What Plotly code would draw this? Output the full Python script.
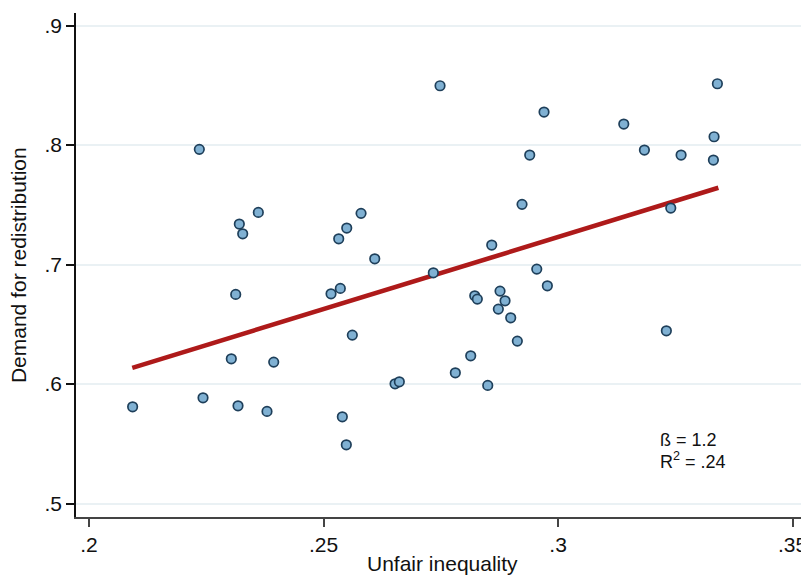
import plotly.graph_objects as go

# Scatter data
unfair_inequality = [
    0.20930, 0.22352, 0.22431, 0.23034, 0.23128, 0.23177, 0.23205, 0.23277,
    0.23610, 0.23795, 0.23938, 0.25160, 0.25324, 0.25358, 0.25401, 0.25495,
    0.25486, 0.25614, 0.25800, 0.26092, 0.26525, 0.26616, 0.27341, 0.27484,
    0.27810, 0.28138, 0.28224, 0.28279, 0.28501, 0.28586, 0.28727, 0.28763,
    0.28870, 0.28991, 0.29132, 0.29232, 0.29396, 0.29546, 0.29701, 0.29772,
    0.31401, 0.31841, 0.32309, 0.32403, 0.32623, 0.33326, 0.33312, 0.33397,
]
demand_redistribution = [
    0.58100, 0.79640, 0.58854, 0.62117, 0.67506, 0.58184, 0.73389, 0.72577,
    0.74368, 0.57715, 0.61841, 0.67556, 0.72159, 0.68008, 0.57264, 0.73054,
    0.54921, 0.64100, 0.74285, 0.70485, 0.60025, 0.60192, 0.69314, 0.84963,
    0.60946, 0.62368, 0.67389, 0.67113, 0.59891, 0.71632, 0.66276, 0.67782,
    0.66971, 0.65548, 0.63598, 0.75038, 0.79163, 0.69623, 0.82762, 0.68226,
    0.81757, 0.79582, 0.64460, 0.74728, 0.79163, 0.80695, 0.78745, 0.85130,
]

# Fitted line endpoints
fit_x = [0.20923, 0.33418]
fit_y = [0.61364, 0.76427]

# Ticks
x_tickvals = [0.2, 0.25, 0.3, 0.35]
x_ticktext = [".2", ".25", ".3", ".35"]
y_tickvals = [0.5, 0.6, 0.7, 0.8, 0.9]
y_ticktext = [".5", ".6", ".7", ".8", ".9"]

x_title = "Unfair inequality"
y_title = "Demand for redistribution"
beta_text = "ß = 1.2"
r2_text = "R<sup>2</sup> = .24"

FONT = "Liberation Sans, Arial, Helvetica, sans-serif"

fig = go.Figure()
fig.add_trace(go.Scatter(
    x=fit_x, y=fit_y, mode="lines",
    line=dict(color="#AE1A1A", width=4.5),
    hoverinfo="skip", showlegend=False,
))
fig.add_trace(go.Scatter(
    x=unfair_inequality, y=demand_redistribution, mode="markers",
    marker=dict(size=9.5, color="#80B1D3", line=dict(color="#1E3F5A", width=1.7)),
    showlegend=False,
))

# The page body has an 8px default margin; the figure is sized to fill the rest.
fig.update_layout(
    width=801, height=567,
    margin=dict(l=68, r=0, t=5, b=58, autoexpand=False),
    paper_bgcolor="white", plot_bgcolor="white",
    font=dict(family=FONT, size=21, color="#111111"),
    xaxis=dict(
        range=[0.19723, 0.3535],
        tickvals=x_tickvals, ticktext=x_ticktext,
        ticks="outside", ticklen=8, tickwidth=1.5, tickcolor="#444444",
        showline=True, linecolor="#444444", linewidth=1.6,
        showgrid=False, zeroline=False,
        tickfont=dict(family=FONT, size=21, color="#111111"),
    ),
    yaxis=dict(
        range=[0.4888, 0.9105],
        tickvals=y_tickvals, ticktext=y_ticktext,
        ticks="outside", ticklen=8, tickwidth=1.5, tickcolor="#111111",
        showline=True, linecolor="#111111", linewidth=1.6,
        showgrid=True, gridcolor="#EAF1F4", gridwidth=1.5,
        zeroline=False,
        tickfont=dict(family=FONT, size=21, color="#111111"),
    ),
    annotations=[
        dict(text=x_title, xref="paper", yref="paper", x=0.5, y=-0.092,
             xanchor="center", yanchor="middle", showarrow=False,
             font=dict(family=FONT, size=21, color="#111111")),
        dict(text=y_title, xref="paper", yref="paper", x=-0.079, y=0.5,
             xanchor="center", yanchor="middle", textangle=-90, showarrow=False,
             font=dict(family=FONT, size=21, color="#111111")),
        dict(text=beta_text, xref="x", yref="y", x=0.3213, y=0.5533,
             xanchor="left", yanchor="middle", showarrow=False,
             font=dict(family=FONT, size=18, color="#111111")),
        dict(text=r2_text, xref="x", yref="y", x=0.3213, y=0.5363,
             xanchor="left", yanchor="middle", showarrow=False,
             font=dict(family=FONT, size=18, color="#111111")),
    ],
)

fig.write_html("out.html")
